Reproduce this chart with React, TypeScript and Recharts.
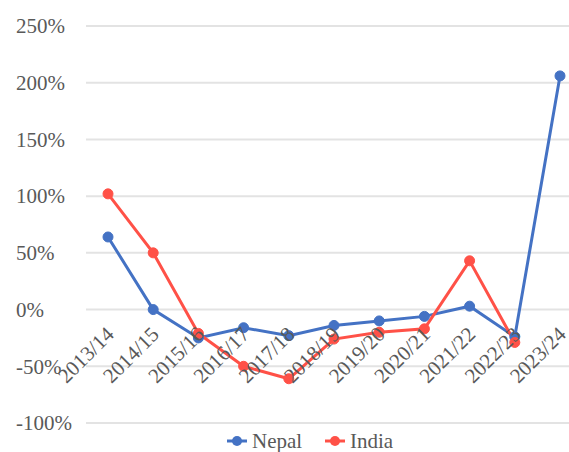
import { LineChart, Line, XAxis, YAxis, CartesianGrid, Legend } from 'recharts'

const YEARS = ['2013/14', '2014/15', '2015/16', '2016/17', '2017/18', '2018/19', '2019/20', '2020/21', '2021/22', '2022/23', '2023/24']
const NEPAL = [64, 0, -25, -16, -23, -14, -10, -6, 3, -24, 206]
const INDIA: (number | null)[] = [102, 50, -21, -50, -61, -26, -20, -17, 43, -29, null]
const Y_TICKS = [-100, -50, 0, 50, 100, 150, 200, 250]

const SERIES = [
  { key: 'Nepal', color: '#4472C4' },
  { key: 'India', color: '#FF5147' },
]

const FONT = 'Liberation Serif, Times New Roman, DejaVu Serif, serif'
const TEXT = '#595959'

const W = 583
const H = 452
const TOP = 26
const BOTTOM = 29
const Y_MIN = -100
const Y_MAX = 250
// y of the 0% line, where the category labels hang in the original
const ZERO_Y = TOP + ((H - TOP - BOTTOM) * Y_MAX) / (Y_MAX - Y_MIN)

const data = YEARS.map((year, i) => ({ year, Nepal: NEPAL[i], India: INDIA[i] }))

const YTick = ({ y, payload }: any) => (
  <text x={16} y={y} dy="0.35em" textAnchor="start" fill={TEXT} fontSize={21} fontFamily={FONT}>
    {payload.value}%
  </text>
)

const XTick = ({ x, payload }: any) => (
  <text
    transform={`translate(${x - 3},${ZERO_Y + 16}) rotate(-45)`}
    textAnchor="end"
    dy="0.68em"
    fill={TEXT}
    fontSize={21}
    fontFamily={FONT}
  >
    {payload.value}
  </text>
)

// legend drawn as svg so the serif font is applied the same way as the ticks
const LegendBox = () => (
  <svg width={200} height={26}>
    <g transform="translate(0,13)">
      <line x1={0} y1={0} x2={20} y2={0} stroke={SERIES[0].color} strokeWidth={3} />
      <circle cx={10} cy={0} r={5} fill={SERIES[0].color} />
      <text x={25} y={0} dy="0.35em" fill={TEXT} fontSize={21} fontFamily={FONT}>
        {SERIES[0].key}
      </text>
      <line x1={98} y1={0} x2={118} y2={0} stroke={SERIES[1].color} strokeWidth={3} />
      <circle cx={108} cy={0} r={5} fill={SERIES[1].color} />
      <text x={123} y={0} dy="0.35em" fill={TEXT} fontSize={21} fontFamily={FONT}>
        {SERIES[1].key}
      </text>
    </g>
  </svg>
)

export default function App() {
  return (
    <div style={{ position: 'fixed', left: 0, top: 0, width: 569, height: 452, overflow: 'hidden', background: '#fff' }}>
      <LineChart width={W} height={H} data={data} margin={{ top: TOP, right: 0, left: 0, bottom: BOTTOM - 1 }}>
        <CartesianGrid vertical={false} stroke="#e3e3e3" strokeWidth={2} />
        <XAxis
          dataKey="year"
          height={1}
          axisLine={false}
          tickLine={false}
          interval={0}
          padding={{ left: 22, right: 23 }}
          tick={<XTick />}
        />
        <YAxis
          width={86}
          domain={[Y_MIN, Y_MAX]}
          ticks={Y_TICKS}
          axisLine={false}
          tickLine={false}
          tick={<YTick />}
        />
        <Legend
          verticalAlign="middle"
          align="center"
          layout="horizontal"
          wrapperStyle={{ left: 227, top: 428, width: 200, height: 26 }}
          content={<LegendBox />}
        />
        {SERIES.map((s) => (
          <Line
            key={s.key}
            dataKey={s.key}
            stroke={s.color}
            strokeWidth={3}
            dot={{ r: 5, fill: s.color, stroke: s.color, strokeWidth: 1 }}
            activeDot={false}
            isAnimationActive={false}
          />
        ))}
      </LineChart>
    </div>
  )
}
